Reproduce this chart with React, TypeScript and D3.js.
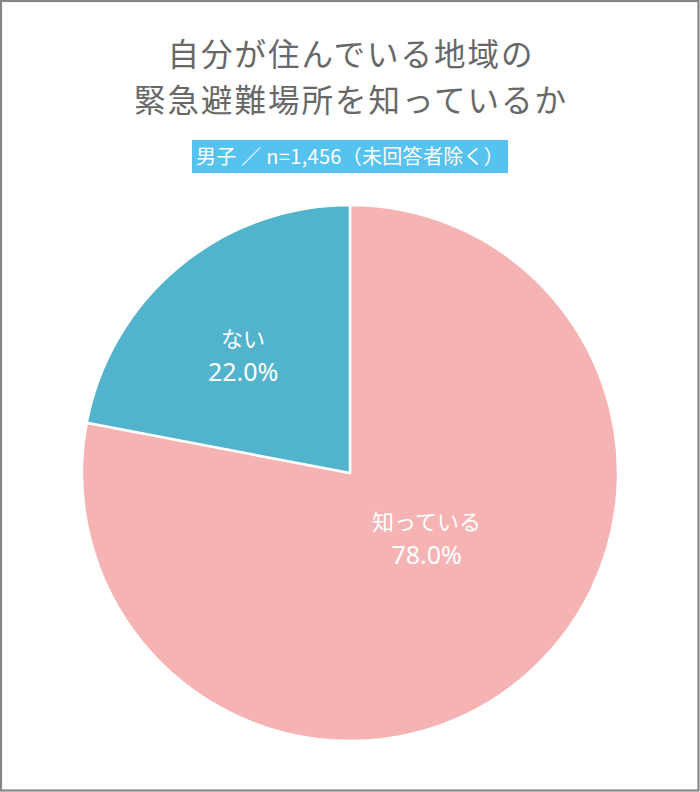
import React, { useEffect, useRef } from 'react';
import * as d3 from 'd3';

const titleLines = ['自分が住んでいる地域の', '緊急避難場所を知っているか'];
const subtitle = '男子 ／ n=1,456（未回答者除く）';
const categories = ['知っている', 'ない'];
const values = [78.0, 22.0];
const colors = ['#f6b3b4', '#52b3cc'];
// label placement: fraction of radius and angle tweak (rad)
const labelRadius = [0.37, 0.594];
const labelAngleShift = [-0.16, -0.045];

const W = 700;
const H = 792;
const FONT = '"Noto Sans CJK JP", "Noto Sans", sans-serif';
const NUM_FONT = '"Noto Sans", "Noto Sans CJK JP", sans-serif';

const App: React.FC = () => {
  const svgRef = useRef<SVGSVGElement>(null);

  useEffect(() => {
    if (!svgRef.current) return;
    const svg = d3.select(svgRef.current);
    svg.selectAll('*').remove();

    // Frame
    svg
      .append('rect')
      .attr('x', 1)
      .attr('y', 1)
      .attr('width', W - 2.5)
      .attr('height', H - 2.5)
      .attr('fill', '#fff')
      .attr('stroke', '#858585')
      .attr('stroke-width', 2.2);

    // Title
    svg
      .append('g')
      .selectAll('text')
      .data(titleLines)
      .enter()
      .append('text')
      .attr('x', W / 2 + 1)
      .attr('y', (_, i) => 66 + i * 46)
      .attr('text-anchor', 'middle')
      .attr('font-family', FONT)
      .attr('font-size', 31.5)
      .attr('letter-spacing', 2)
      .attr('fill', '#686868')
      .text(d => d);

    // Subtitle badge
    svg
      .append('rect')
      .attr('x', 192)
      .attr('y', 140)
      .attr('width', 316)
      .attr('height', 33)
      .attr('fill', '#56c2ef');
    svg
      .append('text')
      .attr('x', W / 2)
      .attr('y', 164)
      .attr('text-anchor', 'middle')
      .attr('font-family', FONT)
      .attr('font-size', 20)
      .attr('letter-spacing', 0.3)
      .attr('fill', '#fff')
      .text(subtitle);

    // Pie
    const cx = 350;
    const cy = 473;
    const radius = 268;
    const data = categories.map((c, i) => ({
      name: c,
      value: values[i],
      color: colors[i],
      lr: labelRadius[i],
      la: labelAngleShift[i],
    }));

    const pie = d3
      .pie<typeof data[number]>()
      .value(d => d.value)
      .sort(null);
    const arc = d3.arc<d3.PieArcDatum<typeof data[number]>>().innerRadius(0).outerRadius(radius);

    const g = svg.append('g').attr('transform', `translate(${cx},${cy})`);
    const arcs = pie(data);

    g.selectAll('path')
      .data(arcs)
      .enter()
      .append('path')
      .attr('d', arc)
      .attr('fill', d => d.data.color)
      .attr('stroke', '#fff')
      .attr('stroke-width', 2.5)
      .attr('stroke-linejoin', 'round');

    // Labels
    const labels = g
      .selectAll('g.label')
      .data(arcs)
      .enter()
      .append('g')
      .attr('class', 'label')
      .attr('transform', d => {
        const r = radius * d.data.lr;
        const a = (d.startAngle + d.endAngle) / 2 + d.data.la;
        return `translate(${r * Math.sin(a) + (d.index === 0 ? 2 : 0)},${-r * Math.cos(a)})`;
      })
      .attr('text-anchor', 'middle')
      .attr('fill', '#fff');

    labels
      .append('text')
      .attr('y', -8)
      .attr('font-family', FONT)
      .attr('font-size', 22)
      .text(d => d.data.name);
    labels
      .append('text')
      .attr('y', 26)
      .attr('font-family', NUM_FONT)
      .attr('font-size', 25)
      .text(d => `${d.data.value.toFixed(1)}%`);
  }, []);

  return (
    <div style={{ position: 'absolute', left: 0, top: 0 }}>
      <svg ref={svgRef} width={W} height={H} style={{ display: 'block' }}></svg>
    </div>
  );
};

export default App;
